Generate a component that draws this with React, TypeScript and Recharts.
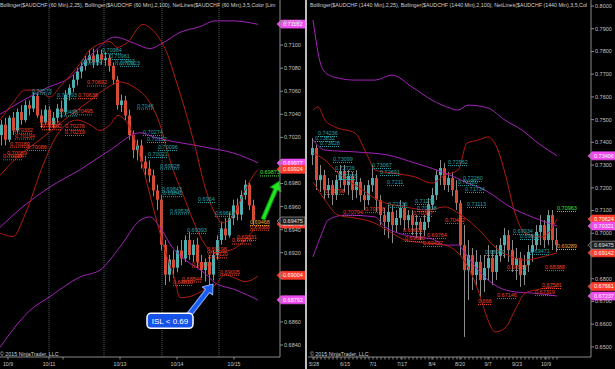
import React from 'react';
import { ComposedChart, Bar, Line, Scatter, XAxis, YAxis, ReferenceLine, ReferenceDot } from 'recharts';

// [open, high, low, close]
type Candle = [number, number, number, number];
// [bar index, price]
type Pt = [number, number];
// [bar index, price, text]
type Tag = [number, number, string];

const H = 369;
const AXIS_H = 12;
const FONT = "'Liberation Sans', Arial, sans-serif";
const TXT = '#c4c4c4';
const AXIS = '#8a8a8a';
const UP = '#4db0b0';
const DOWN = '#d64a36';
const WICK = '#8c8c8c';
const MAG = '#a322b8';
const RED = '#b01c10';
const BREAK = '#46566a';
const TEAL = '#2aa0a8';
const LRED = '#f0402a';
const ORANGE = '#f0a030';
const GREEN = '#40e040';

// ---- 60 min panel ----
const leftCandles: Candle[] = [
  [0.7022, 0.7035, 0.7013, 0.7031], [0.7031, 0.7037, 0.7013, 0.7018], [0.7018, 0.7039, 0.7016, 0.7037],
  [0.7037, 0.7042, 0.7022, 0.7026], [0.7026, 0.7045, 0.7024, 0.7042], [0.7042, 0.7048, 0.7031, 0.7035],
  [0.7035, 0.7052, 0.7033, 0.7048], [0.7048, 0.7052, 0.7039, 0.7045], [0.7045, 0.7059, 0.7042, 0.7056],
  [0.7056, 0.7058, 0.7037, 0.7039], [0.7039, 0.7044, 0.7028, 0.7033], [0.7033, 0.7048, 0.7031, 0.7044],
  [0.7044, 0.7047, 0.7026, 0.7031], [0.7031, 0.7042, 0.7028, 0.7037], [0.7037, 0.7049, 0.7033, 0.7045],
  [0.7045, 0.7052, 0.7037, 0.7042], [0.7042, 0.7061, 0.7039, 0.7057], [0.7057, 0.7066, 0.7052, 0.7063],
  [0.7063, 0.7074, 0.7059, 0.7070], [0.7070, 0.7080, 0.7065, 0.7077], [0.7077, 0.7085, 0.7071, 0.7082],
  [0.7082, 0.7091, 0.7078, 0.7087], [0.7087, 0.7096, 0.7084, 0.7091], [0.7091, 0.7097, 0.7080, 0.7085],
  [0.7085, 0.7096, 0.7082, 0.7092], [0.7092, 0.7096, 0.7083, 0.7087], [0.7087, 0.7094, 0.7082, 0.7089],
  [0.7089, 0.7092, 0.7077, 0.7082], [0.7082, 0.7085, 0.7066, 0.7070], [0.7070, 0.7073, 0.7044, 0.7048],
  [0.7048, 0.7057, 0.7042, 0.7052], [0.7052, 0.7056, 0.7035, 0.7039], [0.7039, 0.7044, 0.7018, 0.7022],
  [0.7022, 0.7026, 0.7002, 0.7009], [0.7009, 0.7018, 0.7000, 0.7013], [0.7013, 0.7018, 0.6993, 0.6999],
  [0.6999, 0.7004, 0.6987, 0.6993], [0.6993, 0.7000, 0.6981, 0.6987], [0.6987, 0.6992, 0.6969, 0.6974],
  [0.6974, 0.6979, 0.6957, 0.6966], [0.6966, 0.6970, 0.6922, 0.6927], [0.6927, 0.6931, 0.6892, 0.6901],
  [0.6901, 0.6918, 0.6895, 0.6914], [0.6914, 0.6922, 0.6898, 0.6907], [0.6907, 0.6926, 0.6903, 0.6922],
  [0.6922, 0.6931, 0.6909, 0.6915], [0.6915, 0.6935, 0.6912, 0.6931], [0.6931, 0.6938, 0.6914, 0.6918],
  [0.6918, 0.6931, 0.6912, 0.6927], [0.6927, 0.6933, 0.6907, 0.6912], [0.6912, 0.6918, 0.6898, 0.6905],
  [0.6905, 0.6915, 0.6895, 0.6912], [0.6912, 0.6918, 0.6889, 0.6901], [0.6901, 0.6922, 0.6896, 0.6918],
  [0.6918, 0.6935, 0.6914, 0.6931], [0.6931, 0.6947, 0.6927, 0.6941], [0.6941, 0.6950, 0.6931, 0.6935],
  [0.6935, 0.6955, 0.6933, 0.6950], [0.6950, 0.6966, 0.6944, 0.6961], [0.6961, 0.6967, 0.6948, 0.6953],
  [0.6953, 0.6974, 0.6948, 0.6970], [0.6970, 0.6983, 0.6966, 0.6979], [0.6979, 0.6981, 0.6957, 0.6961],
  [0.6961, 0.6966, 0.6944, 0.6948],
];

// Bollinger(2,100)
const leftMagUpper: Pt[] = [[-0.5, 0.7040], [5.25, 0.7052], [11.25, 0.7063], [17, 0.7072], [22.75, 0.7093], [28.25, 0.7107], [32.75, 0.7102], [37, 0.7097], [40.25, 0.7102], [44.5, 0.7111], [49.5, 0.7116], [53.25, 0.7121], [57.75, 0.7121], [64, 0.7118]];
const leftMagMid: Pt[] = [[-0.5, 0.6942], [5.25, 0.6960], [12, 0.6977], [19.5, 0.6992], [27, 0.7009], [34.5, 0.7024], [38.25, 0.7020], [50, 0.7012], [58.25, 0.7006], [64, 0.6998]];
const leftMagLower: Pt[] = [[-0.5, 0.6838], [2, 0.6850], [7, 0.6870], [12, 0.6882], [19.5, 0.6899], [24.5, 0.6905], [29.5, 0.6925], [34.5, 0.6948], [37, 0.6951], [39.5, 0.6942], [42.5, 0.6925], [45.75, 0.6914], [50.75, 0.6902], [53.25, 0.6894], [58.25, 0.6888], [64, 0.6879]];
// Bollinger(2,25)
const leftRedUpper: Pt[] = [[-0.5, 0.7035], [2.75, 0.7050], [5.75, 0.7061], [8.75, 0.7061], [12, 0.7055], [14.5, 0.7064], [19.5, 0.7084], [22, 0.7096], [27, 0.7103], [28.75, 0.7098], [31.25, 0.7102], [35.25, 0.7118], [37, 0.7115], [40, 0.7102], [41.5, 0.7091], [43.25, 0.7072], [45.75, 0.7044], [48.25, 0.7012], [50.75, 0.6977], [53.25, 0.6954], [55, 0.6946], [57.5, 0.6951], [60.75, 0.6974], [63.25, 0.6989], [64, 0.6992]];
const leftRedMid: Pt[] = [[-0.5, 0.6987], [4.5, 0.7005], [9.5, 0.7018], [16.25, 0.7037], [22, 0.7052], [26.25, 0.7063], [29.5, 0.7068], [33.25, 0.7063], [37, 0.7050], [39.5, 0.7031], [42, 0.7000], [45.75, 0.6966], [48.25, 0.6944], [50.75, 0.6927], [53.25, 0.6920], [55.75, 0.6921], [58.25, 0.6924], [60.75, 0.6931], [64, 0.6945]];
const leftRedLower: Pt[] = [[-0.5, 0.6937], [2.75, 0.6934], [5.75, 0.6953], [10.25, 0.6996], [13.75, 0.7022], [18.75, 0.7035], [22, 0.7031], [24.5, 0.7026], [27, 0.7031], [29, 0.7039], [30.75, 0.7035], [33.25, 0.7018], [35.75, 0.6987], [38.25, 0.6953], [40.75, 0.6922], [43.25, 0.6896], [44.5, 0.6881], [47, 0.6882], [50.75, 0.6888], [53.25, 0.6892], [55.75, 0.6901], [58.25, 0.6898], [60.75, 0.6895], [63.25, 0.6898], [64, 0.6900]];

const leftTealTags: Tag[] = [
  [25, 0.7093, '0.70984'], [27, 0.7088, '0.70961'], [28.25, 0.7084, '0.70943'], [29.5, 0.7082, '0.70923'],
  [20, 0.7084, '0.70872'], [7.5, 0.7058, '0.70573'], [13.75, 0.7054, '0.70593'], [14, 0.7039, '0.70493'],
  [33.75, 0.7045, '0.7046'], [35.25, 0.7022, '0.70274'], [36.25, 0.7016, '0.70152'], [39, 0.7009, '0.70096'],
  [36.5, 0.7003, '0.70021'], [39.5, 0.6993, '0.69928'], [40, 0.6973, '0.69843'], [40.25, 0.6969, '0.69842'],
  [49, 0.6964, '0.6964'], [42, 0.6954, '0.69536'], [53.25, 0.6952, '0.69610'], [46.25, 0.6937, '0.69393'],
];
const leftRedTags: Tag[] = [
  [2.75, 0.7024, '0.70332'], [3.25, 0.7019, '0.70194'], [2, 0.7012, '0.70189'], [6.25, 0.7009, '0.70086'],
  [1.25, 0.7004, '0.70059'], [0.25, 0.7001, '0.70018'], [9.5, 0.7030, '0.70316'], [10, 0.7027, '0.70302'],
  [15.75, 0.7027, '0.70276'], [15.75, 0.7022, '0.70219'], [17.75, 0.7040, '0.70495'], [19, 0.7054, '0.70638'],
  [21.25, 0.7065, '0.70692'], [51.25, 0.6921, '0.69198'], [51.5, 0.6916, '0.69120'], [47.5, 0.6908, '0.69079'],
  [45, 0.6895, '0.68844'], [42.75, 0.6892, '0.68830'], [54.5, 0.6901, '0.69005'], [58.75, 0.6931, '0.69331'],
  [57.5, 0.6928, '0.69276'], [62, 0.6940, '0.69388'],
];
const leftOrangeTags: Tag[] = [[62, 0.6944, '0.69468']];
const leftGreenTags: Tag[] = [[64.5, 0.6987, '0.69873']];

const leftFlags: [number, string][] = [[0.71182, 'mag'], [0.69977, 'mag'], [0.69924, 'red'], [0.69449, 'red'], [0.69004, 'red'], [0.68792, 'mag'], [0.69475, 'last']];
const leftYTicks = [0.684, 0.686, 0.688, 0.69, 0.692, 0.694, 0.696, 0.698, 0.7, 0.702, 0.704, 0.706, 0.708, 0.71, 0.712];
// tick labels that sit under a price flag
const leftYHidden = [0.7, 0.69, 0.688];
const leftDates: [number, string][] = [[1.5, '10/9'], [11.75, '10/11'], [29.5, '10/13'], [43.75, '10/14'], [58, '10/15']];
const leftMinorTicks = [15.25];
const leftSessionBreaks = [11.75, 25.5, 40, 54.25];

// arrows: [from, to]
const greenArrow: [Pt, Pt] = [[65.25, 0.6949], [69.3, 0.6982]];
const blueArrow: [Pt, Pt] = [[46.5, 0.6865], [52.75, 0.6893]];
const islNote: Tag = [42, 0.6861, 'ISL < 0.69'];

// ---- 1440 min panel ----
const rightCandles: Candle[] = [
  [0.7344, 0.7419, 0.7300, 0.7375], [0.7375, 0.7388, 0.7190, 0.7234], [0.7234, 0.7300, 0.7182, 0.7256],
  [0.7256, 0.7278, 0.7146, 0.7190], [0.7190, 0.7243, 0.7155, 0.7212], [0.7212, 0.7234, 0.7124, 0.7168],
  [0.7168, 0.7256, 0.7146, 0.7234], [0.7234, 0.7300, 0.7199, 0.7270], [0.7270, 0.7300, 0.7182, 0.7212],
  [0.7212, 0.7278, 0.7168, 0.7252], [0.7252, 0.7270, 0.7146, 0.7190], [0.7190, 0.7278, 0.7155, 0.7226],
  [0.7226, 0.7243, 0.7138, 0.7168], [0.7168, 0.7212, 0.7102, 0.7146], [0.7146, 0.7234, 0.7124, 0.7212],
  [0.7212, 0.7300, 0.7182, 0.7243], [0.7243, 0.7256, 0.7094, 0.7146], [0.7146, 0.7168, 0.7036, 0.7080],
  [0.7080, 0.7111, 0.6992, 0.7050], [0.7050, 0.7124, 0.6979, 0.7094], [0.7094, 0.7124, 0.6957, 0.7036],
  [0.7036, 0.7102, 0.7006, 0.7067], [0.7067, 0.7146, 0.7036, 0.7111], [0.7111, 0.7133, 0.7014, 0.7058],
  [0.7058, 0.7102, 0.7023, 0.7080], [0.7080, 0.7102, 0.6992, 0.7036], [0.7036, 0.7080, 0.6979, 0.7050],
  [0.7050, 0.7067, 0.6970, 0.7014], [0.7014, 0.7080, 0.6988, 0.7050], [0.7050, 0.7155, 0.7023, 0.7124],
  [0.7124, 0.7199, 0.7102, 0.7168], [0.7168, 0.7278, 0.7146, 0.7256], [0.7256, 0.7322, 0.7212, 0.7287],
  [0.7287, 0.7309, 0.7190, 0.7212], [0.7212, 0.7270, 0.7182, 0.7243], [0.7243, 0.7270, 0.7164, 0.7190],
  [0.7190, 0.7234, 0.7102, 0.7133], [0.7133, 0.7146, 0.6904, 0.6948], [0.6948, 0.7036, 0.6544, 0.6838],
  [0.6838, 0.6970, 0.6706, 0.6904], [0.6904, 0.6935, 0.6750, 0.6816], [0.6816, 0.6926, 0.6772, 0.6874],
  [0.6874, 0.6904, 0.6720, 0.6794], [0.6794, 0.6904, 0.6742, 0.6847], [0.6847, 0.6948, 0.6794, 0.6891],
  [0.6891, 0.6926, 0.6772, 0.6830], [0.6830, 0.6948, 0.6794, 0.6904], [0.6904, 0.6979, 0.6874, 0.6948],
  [0.6948, 0.7023, 0.6891, 0.6992], [0.6992, 0.7014, 0.6874, 0.6926], [0.6926, 0.6970, 0.6830, 0.6860],
  [0.6860, 0.6935, 0.6794, 0.6891], [0.6891, 0.6918, 0.6764, 0.6816], [0.6816, 0.6904, 0.6772, 0.6860],
  [0.6860, 0.6948, 0.6830, 0.6918], [0.6918, 0.6992, 0.6874, 0.6948], [0.6948, 0.7036, 0.6926, 0.7006],
  [0.7006, 0.7080, 0.6948, 0.7036], [0.7036, 0.7058, 0.6935, 0.6970], [0.6970, 0.7102, 0.6948, 0.7080],
  [0.7080, 0.7102, 0.6926, 0.6970], [0.6970, 0.7023, 0.6918, 0.6948],
];

const rightMagUpper: Pt[] = [[0, 0.7938], [2, 0.7740], [3.5, 0.7701], [6.25, 0.7683], [10.5, 0.7674], [15.5, 0.7674], [19.75, 0.7696], [24.75, 0.7644], [29.75, 0.7586], [34.25, 0.7551], [36.25, 0.7542], [38.75, 0.7564], [43.75, 0.7551], [48, 0.7498], [52.25, 0.7454], [56.25, 0.7397], [61, 0.7341]];
const rightMagMid: Pt[] = [[0, 0.7410], [3, 0.7366], [10.5, 0.7358], [18.75, 0.7344], [25.5, 0.7309], [34.25, 0.7256], [38, 0.7226], [43, 0.7190], [49.75, 0.7111], [54.75, 0.7072], [61, 0.7032]];
const rightMagLower: Pt[] = [[0, 0.6896], [2.25, 0.7001], [3.75, 0.7058], [8, 0.7080], [15.5, 0.7072], [18, 0.7028], [21.25, 0.7001], [25.5, 0.6984], [29.75, 0.6975], [33, 0.6948], [36.25, 0.6948], [38, 0.6913], [41.25, 0.6838], [46.25, 0.6764], [50.5, 0.6742], [54.75, 0.6737], [61, 0.6724]];
const rightRedUpper: Pt[] = [[0, 0.7542], [1.25, 0.7556], [3, 0.7498], [5.5, 0.7468], [10.5, 0.7441], [13.75, 0.7336], [15.5, 0.7278], [19.75, 0.7265], [25.5, 0.7248], [29.75, 0.7221], [33, 0.7256], [36.25, 0.7278], [38.5, 0.7397], [41.25, 0.7410], [43.75, 0.7424], [46.25, 0.7366], [48, 0.7265], [50.5, 0.7089], [53, 0.7001], [57.25, 0.6984], [61, 0.7062]];
const rightRedMid: Pt[] = [[0, 0.7353], [3, 0.7322], [6.25, 0.7265], [11.25, 0.7204], [16.25, 0.7146], [23, 0.7116], [28.75, 0.7102], [33, 0.7116], [36.25, 0.7089], [38.75, 0.7058], [42.25, 0.7001], [45.5, 0.6940], [49.75, 0.6896], [53, 0.6882], [57.25, 0.6896], [61, 0.6914]];
const rightRedLower: Pt[] = [[0, 0.7226], [3, 0.7146], [6.25, 0.7080], [10.5, 0.7067], [14.75, 0.7050], [19.75, 0.7001], [23, 0.6970], [28, 0.6957], [33, 0.6948], [36.25, 0.6913], [38.75, 0.6852], [41.25, 0.6750], [43.75, 0.6618], [45.5, 0.6566], [48, 0.6583], [50.5, 0.6662], [53, 0.6737], [55.5, 0.6750], [61, 0.6766]];

const rightTealTags: Tag[] = [
  [1.25, 0.7428, '0.74236'], [0.5, 0.7406, '0.73832'], [1.75, 0.7384, '0.73628'], [5, 0.7314, '0.73099'],
  [5.5, 0.7274, '0.72726'], [6.25, 0.7239, '0.72365'], [14.75, 0.7287, '0.73067'], [16.75, 0.7256, '0.72691'],
  [18.5, 0.7212, '0.7211'], [18.75, 0.7116, '0.71136'], [25.5, 0.7129, '0.71276'], [26, 0.7098, '0.70938'],
  [33.75, 0.7300, '0.72962'], [37.5, 0.7230, '0.72260'], [36.25, 0.7212, '0.72180'], [38, 0.7182, '0.71734'],
  [38.5, 0.7116, '0.71113'], [50, 0.6997, '0.69934'], [51.75, 0.6975, '0.69836'], [54.25, 0.6909, '0.69471'],
  [43, 0.6904, '0.68960'],
];
const rightRedTags: Tag[] = [
  [3, 0.7173, '0.71798'], [7.5, 0.7080, '0.70794'], [13, 0.7093, '0.70798'], [25, 0.7076, '0.70377'],
  [22.5, 0.7001, '0.69601'], [23, 0.6966, '0.69680'], [28.5, 0.6979, '0.69764'], [27.5, 0.6944, '0.69427'],
  [33, 0.7045, '0.70432'], [48.5, 0.6838, '0.68987'], [58, 0.6838, '0.68388'], [57.25, 0.6759, '0.67581'],
  [55.5, 0.6728, '0.67319'], [46, 0.6715, '0.67146'], [41.25, 0.6689, '0.666'],
];
const rightOrangeTags: Tag[] = [[61, 0.6931, '0.69289']];
const rightGreenTags: Tag[] = [[61, 0.7098, '0.70963']];

const rightFlags: [number, string][] = [[0.73406, 'mag'], [0.70624, 'red'], [0.70321, 'mag'], [0.69142, 'red'], [0.67661, 'red'], [0.67237, 'mag'], [0.69475, 'last']];
const rightYTicks = [0.65, 0.66, 0.67, 0.68, 0.69, 0.7, 0.71, 0.72, 0.73, 0.74, 0.75, 0.76, 0.77, 0.78, 0.79, 0.8];
const rightYHidden = [0.69];
const rightDates: [number, string][] = [[0.25, '5/28'], [8, '6/15'], [15, '7/1'], [22.25, '7/17'], [29.75, '8/4'], [36.75, '8/20'], [43.75, '9/7'], [51, '9/23'], [58.25, '10/9']];
const rightMinorTicks = rightCandles.map((_, i) => i);

const FLAG_STYLE: Record<string, { fill: string; stroke: string; text: string }> = {
  mag: { fill: '#ee4cee', stroke: '#ee4cee', text: '#ffffff' },
  red: { fill: '#ff3a2a', stroke: '#ff3a2a', text: '#ffffff' },
  last: { fill: '#1c1c1c', stroke: '#a0a0a0', text: '#e0e0e0' },
};

const xy = (pts: Pt[]) => pts.map(([x, y]) => ({ x, y }));
const tagRows = (tags: Tag[]) => tags.map(([x, y, text]) => ({ x, y, text }));

const CandleShape = (props: any) => {
  const { x, y, width, height, payload } = props;
  if (!payload || !isFinite(y) || !isFinite(height)) return null;
  const top = Math.min(y, y + height);
  const span = Math.abs(height);
  const { o, h, l, c } = payload;
  const py = (v: number) => top + ((h - v) / (h - l)) * span;
  const left = Math.round(x);
  const w = Math.max(1, Math.round(width));
  const mid = left + Math.floor(w / 2) + 0.5;
  const bodyTop = py(Math.max(o, c));
  const bodyH = Math.max(1, py(Math.min(o, c)) - bodyTop);
  return (
    <g>
      <line x1={mid} x2={mid} y1={top} y2={top + span} stroke={WICK} strokeWidth={1} />
      <rect x={left} y={bodyTop} width={w} height={bodyH} fill={c >= o ? UP : DOWN} />
    </g>
  );
};

const tagShape = (color: string) => (props: any) => {
  const { cx, cy, payload } = props;
  const w = payload.text.length * 2.85;
  return (
    <g>
      <text x={cx} y={cy - 1} fontSize={5.5} fill={color} fontFamily={FONT}>{payload.text}</text>
      <line x1={cx} x2={cx + w} y1={cy + 0.5} y2={cy + 0.5} stroke={color} strokeWidth={1} strokeDasharray="1 1" />
    </g>
  );
};

const flagLabel = (value: number, kind: string) => (props: any) => {
  const vb = props.viewBox || {};
  const x0 = (vb.x || 0) + (vb.width || 0);
  const y = vb.y || 0;
  const s = FLAG_STYLE[kind];
  return (
    <g>
      <polygon
        points={`${x0 - 3},${y} ${x0 + 1},${y - 4} ${x0 + 25},${y - 4} ${x0 + 25},${y + 4} ${x0 + 1},${y + 4}`}
        fill={s.fill}
        stroke={s.stroke}
        strokeWidth={0.7}
      />
      <text x={x0 + 3} y={y + 2} fontSize={5.5} fill={s.text} fontFamily={FONT}>{value.toFixed(5)}</text>
    </g>
  );
};

const priceTick = (hidden: number[]) => (props: any) => {
  const { x, y, payload } = props;
  if (hidden.some((h) => Math.abs(h - payload.value) < 1e-9)) return <g />;
  return (
    <text x={x} y={y} dy="0.355em" fontSize={5.5} fill={TXT} fontFamily={FONT} textAnchor="start">
      {Number(payload.value).toFixed(4)}
    </text>
  );
};

const arrowShape = (fill: string, edge: string, shaft: number, head: number, headLen: number) => (props: any) => {
  const { x1, y1, x2, y2 } = props;
  if (![x1, y1, x2, y2].every((v) => isFinite(v))) return null;
  const len = Math.hypot(x2 - x1, y2 - y1);
  const deg = (Math.atan2(y2 - y1, x2 - x1) * 180) / Math.PI;
  const b = len - headLen;
  const pts = `0,${-shaft} ${b},${-shaft} ${b},${-head} ${len},0 ${b},${head} ${b},${shaft} 0,${shaft}`;
  return (
    <g transform={`translate(${x1},${y1}) rotate(${deg})`}>
      <polygon points={pts} fill={fill} stroke={edge} strokeWidth={1} strokeLinejoin="round" />
    </g>
  );
};

const noteShape = (text: string) => (props: any) => {
  const { cx, cy } = props;
  return (
    <g>
      <rect x={cx - 23} y={cy - 7.5} width={46} height={15} rx={4} fill="#1652e8" stroke="#ffffff" strokeWidth={1.5} />
      <text x={cx} y={cy + 3} textAnchor="middle" fontSize={8} fill="#ffffff" fontFamily={FONT}>{text}</text>
    </g>
  );
};

const dateTick = (dates: [number, string][]) => (props: any) => {
  const { x, y, payload } = props;
  const hit = dates.find((d) => d[0] === payload.value);
  return (
    <g>
      <line x1={x} x2={x} y1={y} y2={y + 2.5} stroke={AXIS} strokeWidth={1} />
      {hit && (
        <text x={x} y={y + 9} textAnchor="middle" fontSize={5.2} fill={TXT} fontFamily={FONT}>{hit[1]}</text>
      )}
    </g>
  );
};

interface PanelProps {
  left: number;
  width: number;
  axisWidth: number;
  candles: Candle[];
  xDomain: [number, number];
  yDomain: [number, number];
  yTicks: number[];
  yHidden: number[];
  dates: [number, string][];
  minorTicks: number[];
  breaks: number[];
  bands: { data: Pt[]; color: string }[];
  tags: { data: Tag[]; color: string }[];
  flags: [number, string][];
  arrows: { seg: [Pt, Pt]; kind: 'green' | 'blue' }[];
  notes: Tag[];
  title: string;
  textLeft: number;
}

function Panel(p: PanelProps) {
  const rows = p.candles.map(([o, h, l, c], i) => ({ x: i, range: [l, h], o, h, l, c }));
  const ticks = Array.from(new Set([...p.minorTicks, ...p.dates.map((d) => d[0])])).sort((a, b) => a - b);
  const textStyle: React.CSSProperties = {
    position: 'absolute',
    left: p.textLeft,
    whiteSpace: 'nowrap',
    fontSize: '5.3px',
    lineHeight: '6px',
    color: '#d0d0d0',
    fontFamily: FONT,
  };
  return (
    <div style={{ position: 'absolute', left: p.left, top: 0, width: p.width, height: H }}>
      <div style={{ position: 'absolute', left: 0, top: 0 }}>
        <ComposedChart width={p.width} height={H} data={rows} margin={{ top: 0, right: p.axisWidth, bottom: AXIS_H, left: 0 }}>
          <XAxis type="number" dataKey="x" domain={p.xDomain} allowDataOverflow hide />
          <YAxis type="number" domain={p.yDomain} allowDataOverflow hide />
          {p.breaks.map((b) => (
            <ReferenceLine key={`br${b}`} x={b} stroke={BREAK} strokeDasharray="1 1" />
          ))}
          <Bar dataKey="range" barSize={3} shape={CandleShape} isAnimationActive={false} />
        </ComposedChart>
      </div>
      <div style={{ position: 'absolute', left: 0, top: 0 }}>
        <ComposedChart width={p.width} height={H} margin={{ top: 0, right: 0, bottom: 0, left: 0 }}>
          <XAxis
            type="number"
            dataKey="x"
            domain={p.xDomain}
            allowDataOverflow
            ticks={ticks}
            interval={0}
            height={AXIS_H}
            tickSize={0}
            tickMargin={0}
            tickLine={false}
            axisLine={{ stroke: AXIS }}
            tick={dateTick(p.dates)}
          />
          <YAxis
            orientation="right"
            type="number"
            domain={p.yDomain}
            allowDataOverflow
            ticks={p.yTicks}
            interval={0}
            width={p.axisWidth}
            tick={priceTick(p.yHidden)}
            tickSize={3}
            tickMargin={1}
            axisLine={{ stroke: AXIS }}
            tickLine={{ stroke: AXIS }}
          />
          {p.bands.map((b, i) => (
            <Line
              key={`band${i}`}
              data={xy(b.data)}
              dataKey="y"
              type="monotone"
              stroke={b.color}
              strokeWidth={1}
              dot={false}
              activeDot={false}
              isAnimationActive={false}
            />
          ))}
          {p.tags.map((t, i) => (
            <Scatter key={`tag${i}`} data={tagRows(t.data)} dataKey="y" shape={tagShape(t.color)} isAnimationActive={false} />
          ))}
          {p.notes.map((n, i) => (
            <ReferenceDot key={`note${i}`} x={n[0]} y={n[1]} r={1} shape={noteShape(n[2])} />
          ))}
          {p.arrows.map((a, i) => (
            <ReferenceLine
              key={`arrow${i}`}
              segment={[{ x: a.seg[0][0], y: a.seg[0][1] }, { x: a.seg[1][0], y: a.seg[1][1] }]}
              shape={a.kind === 'green' ? arrowShape('#22e622', '#0f8a0f', 2, 6, 9) : arrowShape('#1a5cf2', '#8fb4ff', 2.5, 6.5, 9)}
            />
          ))}
          {p.flags.map(([v, kind]) => (
            <ReferenceLine key={`flag${v}`} y={v} stroke="none" label={flagLabel(v, kind)} />
          ))}
        </ComposedChart>
      </div>
      <div style={{ ...textStyle, top: 2 }}>{p.title}</div>
      <div style={{ ...textStyle, top: 351 }}>© 2015 NinjaTrader, LLC</div>
    </div>
  );
}

export default function App() {
  return (
    <div style={{ position: 'absolute', left: 0, top: 0, width: 615, height: H, background: '#000', overflow: 'hidden' }}>
      <Panel
        left={0}
        width={305}
        axisWidth={25}
        candles={leftCandles}
        xDomain={[-0.5, 69.5]}
        yDomain={[0.68296, 0.71391]}
        yTicks={leftYTicks}
        yHidden={leftYHidden}
        dates={leftDates}
        minorTicks={leftMinorTicks}
        breaks={leftSessionBreaks}
        bands={[
          { data: leftMagUpper, color: MAG },
          { data: leftMagMid, color: MAG },
          { data: leftMagLower, color: MAG },
          { data: leftRedUpper, color: RED },
          { data: leftRedMid, color: RED },
          { data: leftRedLower, color: RED },
        ]}
        tags={[
          { data: leftTealTags, color: TEAL },
          { data: leftRedTags, color: LRED },
          { data: leftOrangeTags, color: ORANGE },
          { data: leftGreenTags, color: GREEN },
        ]}
        flags={leftFlags}
        arrows={[
          { seg: greenArrow, kind: 'green' },
          { seg: blueArrow, kind: 'blue' },
        ]}
        notes={[islNote]}
        title="Bollinger($AUDCHF (60 Min),2,25), Bollinger($AUDCHF (60 Min),2,100), NetLines($AUDCHF (60 Min),3,5,Color [Lim"
        textLeft={0}
      />
      <div style={{ position: 'absolute', left: 305, top: 0, width: 2, height: H, background: '#bdbdbd' }} />
      <Panel
        left={308}
        width={307}
        axisWidth={24}
        candles={rightCandles}
        xDomain={[-1.25, 69.5]}
        yDomain={[0.64556, 0.80264]}
        yTicks={rightYTicks}
        yHidden={rightYHidden}
        dates={rightDates}
        minorTicks={rightMinorTicks}
        breaks={[]}
        bands={[
          { data: rightMagUpper, color: MAG },
          { data: rightMagMid, color: MAG },
          { data: rightMagLower, color: MAG },
          { data: rightRedUpper, color: RED },
          { data: rightRedMid, color: RED },
          { data: rightRedLower, color: RED },
        ]}
        tags={[
          { data: rightTealTags, color: TEAL },
          { data: rightRedTags, color: LRED },
          { data: rightOrangeTags, color: ORANGE },
          { data: rightGreenTags, color: GREEN },
        ]}
        flags={rightFlags}
        arrows={[]}
        notes={[]}
        title="Bollinger($AUDCHF (1440 Min),2,25), Bollinger($AUDCHF (1440 Min),2,100), NetLines($AUDCHF (1440 Min),3,5,Col"
        textLeft={2}
      />
    </div>
  );
}
